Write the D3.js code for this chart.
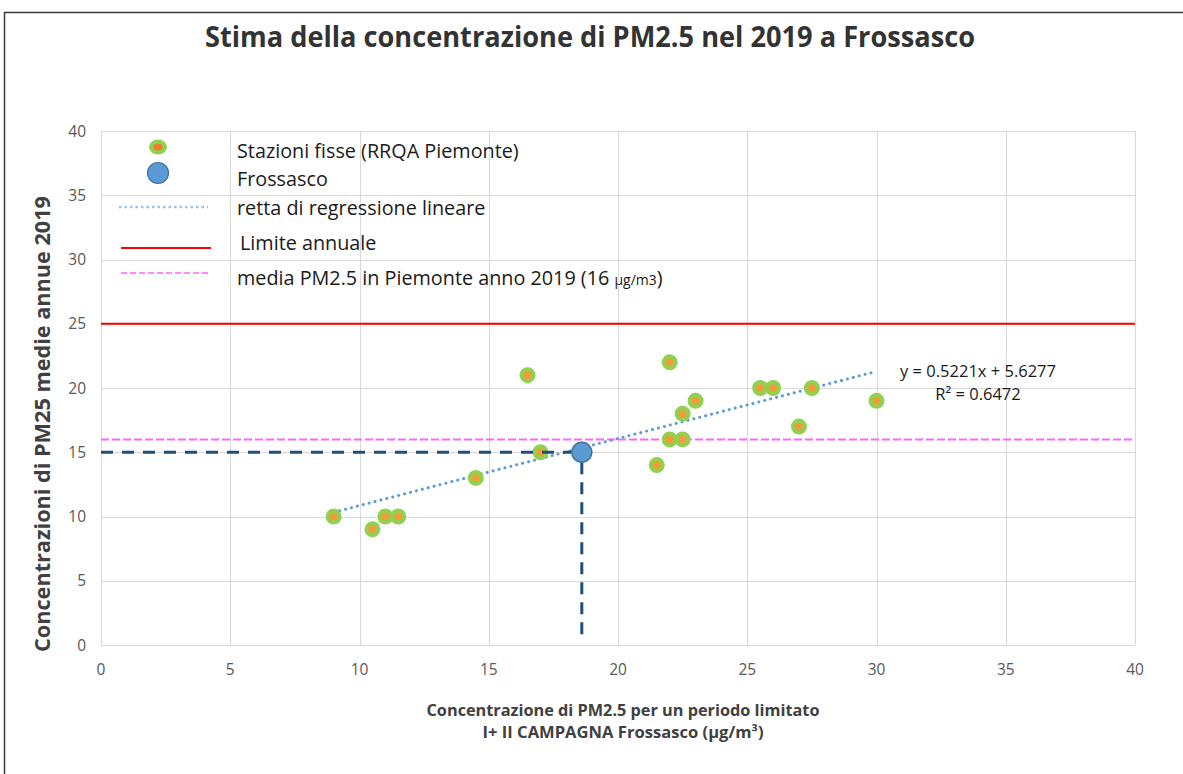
<!DOCTYPE html>
<html>
<head>
<meta charset="utf-8">
<script src="https://cdn.jsdelivr.net/npm/d3@7"></script>
<style>
  body { margin: 0; background: #fff; }
  svg { display: block; font-family: "Open Sans", Lato, sans-serif; }
  .grid line { stroke: #d9d9d9; stroke-width: 1; }
  .tick-label { font-size: 15.5px; fill: #595959; }
  .legend-text { font-size: 19.8px; fill: #1a1a1a; }
</style>
</head>
<body>
<script>
// dati
const stationX = [9, 10.5, 11, 11.5, 14.5, 16.5, 17, 21.5, 22, 22, 22.5, 22.5, 23, 25.5, 26, 27, 27.5, 30];
const stationY = [10, 9, 10, 10, 13, 21, 15, 14, 22, 16, 16, 18, 19, 20, 20, 17, 20, 19];
const frossascoX = 18.6;
const frossascoY = 15;
const regSlope = 0.5221;
const regIntercept = 5.6277;
const regR2 = 0.6472;
const regRange = [9, 30];
const limiteAnnuale = 25;
const mediaPiemonte = 16;
const xTicks = [0, 5, 10, 15, 20, 25, 30, 35, 40];
const yTicks = [0, 5, 10, 15, 20, 25, 30, 35, 40];

const W = 1183, H = 774;
const svg = d3.select("body").append("svg")
    .attr("width", W)
    .attr("height", H);

// cornice esterna
svg.append("rect")
    .attr("x", 4.5).attr("y", 12.5)
    .attr("width", 1200).attr("height", 800)
    .attr("fill", "none")
    .attr("stroke", "#3a3a3a")
    .attr("stroke-width", 1.5);

const x = d3.scaleLinear().domain([0, 40]).range([101, 1135]);
const y = d3.scaleLinear().domain([0, 40]).range([645, 131]);

// griglia
const grid = svg.append("g").attr("class", "grid");
grid.selectAll("line.v").data(xTicks).join("line")
    .attr("class", "v")
    .attr("x1", d => Math.round(x(d)) + 0.5).attr("x2", d => Math.round(x(d)) + 0.5)
    .attr("y1", y(0)).attr("y2", y(40));
grid.selectAll("line.h").data(yTicks).join("line")
    .attr("class", "h")
    .attr("y1", d => Math.round(y(d)) + 0.5).attr("y2", d => Math.round(y(d)) + 0.5)
    .attr("x1", x(0)).attr("x2", x(40));

// etichette assi
svg.append("g").selectAll("text").data(xTicks).join("text")
    .attr("class", "tick-label")
    .attr("x", d => x(d))
    .attr("y", 675)
    .attr("text-anchor", "middle")
    .text(d => d);
svg.append("g").selectAll("text").data(yTicks).join("text")
    .attr("class", "tick-label")
    .attr("x", 86)
    .attr("y", d => y(d) + 5.5)
    .attr("text-anchor", "end")
    .text(d => d);

// titolo
svg.append("text")
    .attr("x", 590).attr("y", 47)
    .attr("text-anchor", "middle")
    .attr("font-family", "'Liberation Sans Narrow', 'Open Sans', sans-serif")
    .attr("font-weight", "bold")
    .attr("font-size", 28)
    .attr("fill", "#333")
    .attr("textLength", 770)
    .attr("lengthAdjust", "spacingAndGlyphs")
    .text("Stima della concentrazione di PM2.5 nel 2019 a Frossasco");

// titolo asse y
svg.append("text")
    .attr("transform", "translate(50, 424) rotate(-90)")
    .attr("text-anchor", "middle")
    .attr("font-weight", "bold")
    .attr("font-size", 21)
    .attr("fill", "#404040")
    .attr("textLength", 456)
    .attr("lengthAdjust", "spacingAndGlyphs")
    .text("Concentrazioni di PM25 medie annue 2019");

// titolo asse x
const xt = svg.append("text")
    .attr("text-anchor", "middle")
    .attr("font-weight", "bold")
    .attr("font-size", 15.5)
    .attr("fill", "#404040");
xt.append("tspan").attr("x", 623).attr("y", 716)
    .attr("textLength", 393).attr("lengthAdjust", "spacingAndGlyphs")
    .text("Concentrazione di PM2.5 per un periodo limitato");
xt.append("tspan").attr("x", 623).attr("y", 738)
    .attr("textLength", 281).attr("lengthAdjust", "spacingAndGlyphs")
    .text("I+ II CAMPAGNA Frossasco (µg/m³)");

// linee di riferimento
svg.append("line")
    .attr("x1", x(0)).attr("x2", x(40))
    .attr("y1", y(limiteAnnuale)).attr("y2", y(limiteAnnuale))
    .attr("stroke", "#ff0000").attr("stroke-width", 2);
svg.append("line")
    .attr("x1", x(0)).attr("x2", x(40))
    .attr("y1", y(mediaPiemonte)).attr("y2", y(mediaPiemonte))
    .attr("stroke", "#ff66ff").attr("stroke-width", 2)
    .attr("stroke-dasharray", "8,3");

// retta di regressione
svg.append("line")
    .attr("x1", x(regRange[0])).attr("y1", y(regSlope * regRange[0] + regIntercept))
    .attr("x2", x(regRange[1])).attr("y2", y(regSlope * regRange[1] + regIntercept))
    .attr("stroke", "#5b9bd5").attr("stroke-width", 3)
    .attr("stroke-linecap", "round")
    .attr("stroke-dasharray", "0.1,6");

// stazioni fisse
const stations = stationX.map((d, i) => ({x: d, y: stationY[i]}));
const pts = svg.append("g");
pts.selectAll("circle.out").data(stations).join("circle")
    .attr("class", "out")
    .attr("cx", d => x(d.x)).attr("cy", d => y(d.y))
    .attr("r", 8).attr("fill", "#92d050");
pts.selectAll("circle.in").data(stations).join("circle")
    .attr("class", "in")
    .attr("cx", d => x(d.x)).attr("cy", d => y(d.y))
    .attr("r", 3.8).attr("fill", "#f79a3a");

// proiezioni Frossasco
svg.append("line")
    .attr("x1", x(0)).attr("x2", x(frossascoX) - 10)
    .attr("y1", y(frossascoY)).attr("y2", y(frossascoY))
    .attr("stroke", "#1f4e79").attr("stroke-width", 3)
    .attr("stroke-dasharray", "12,9");
svg.append("line")
    .attr("x1", x(frossascoX)).attr("x2", x(frossascoX))
    .attr("y1", y(frossascoY) + 10).attr("y2", y(0) - 6)
    .attr("stroke", "#1f4e79").attr("stroke-width", 3)
    .attr("stroke-dasharray", "12,8");
svg.append("circle")
    .attr("cx", x(frossascoX)).attr("cy", y(frossascoY))
    .attr("r", 10)
    .attr("fill", "#5b9bd5")
    .attr("stroke", "#41719c").attr("stroke-width", 1.5);

// equazione
const eq = svg.append("text")
    .attr("text-anchor", "middle")
    .attr("font-size", 16.5)
    .attr("fill", "#1a1a1a");
eq.append("tspan").attr("x", 978).attr("y", 377).text(`y = ${regSlope}x + ${regIntercept}`);
eq.append("tspan").attr("x", 978).attr("y", 400).text(`R² = ${regR2}`);

// legenda
const lg = svg.append("g");
lg.append("ellipse").attr("cx", 158).attr("cy", 147).attr("rx", 9).attr("ry", 7.5).attr("fill", "#92d050");
lg.append("ellipse").attr("cx", 158).attr("cy", 147).attr("rx", 4.5).attr("ry", 3.5).attr("fill", "#ed7d31");
lg.append("circle").attr("cx", 158).attr("cy", 173).attr("r", 10.5)
    .attr("fill", "#5b9bd5").attr("stroke", "#41719c").attr("stroke-width", 1.2);
lg.append("line").attr("x1", 119).attr("x2", 208).attr("y1", 207).attr("y2", 207)
    .attr("stroke", "#9dc3e6").attr("stroke-width", 2.5).attr("stroke-dasharray", "2.5,3");
lg.append("line").attr("x1", 121).attr("x2", 211).attr("y1", 248).attr("y2", 248)
    .attr("stroke", "#ff0000").attr("stroke-width", 2);
lg.append("line").attr("x1", 121).attr("x2", 211).attr("y1", 273).attr("y2", 273)
    .attr("stroke", "#ff66ff").attr("stroke-width", 1.5).attr("stroke-dasharray", "6,3");

lg.append("text").attr("class", "legend-text").attr("x", 237).attr("y", 158).text("Stazioni fisse (RRQA Piemonte)");
lg.append("text").attr("class", "legend-text").attr("x", 237).attr("y", 186).text("Frossasco");
lg.append("text").attr("class", "legend-text").attr("x", 237).attr("y", 215).text("retta di regressione lineare");
lg.append("text").attr("class", "legend-text").attr("x", 240).attr("y", 250).text("Limite annuale");
const lm = lg.append("text").attr("class", "legend-text").attr("x", 237).attr("y", 285);
lm.append("tspan").text("media PM2.5 in Piemonte anno 2019 (16 ");
lm.append("tspan").attr("font-size", 14).text("µg/m3");
lm.append("tspan").text(")");
</script>
</body>
</html>
